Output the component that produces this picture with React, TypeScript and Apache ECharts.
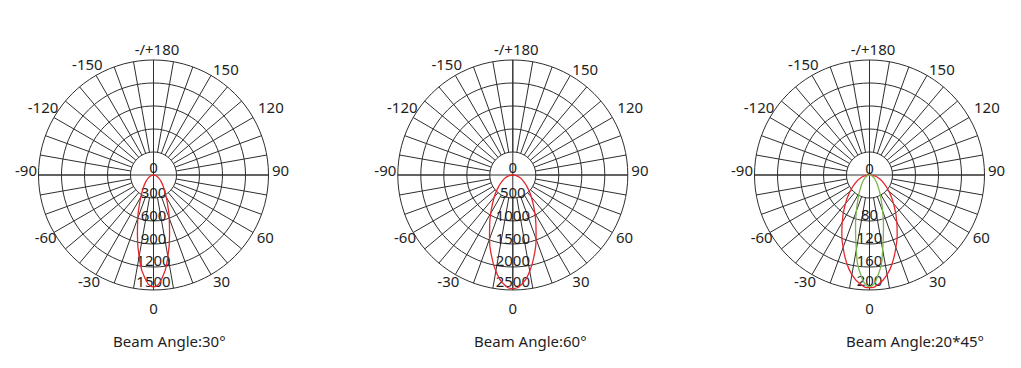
import { useEffect, useRef } from 'react';
import * as echarts from 'echarts';

// ---- data ----
const ANGLES = [-90, -80, -70, -60, -50, -40, -30, -25, -20, -15, -10, -5, 0, 5, 10, 15, 20, 25, 30, 40, 50, 60, 70, 80, 90];
const BEAM30 = [0, 20, 45, 80, 125, 200, 330, 440, 600, 810, 1080, 1340, 1460, 1340, 1080, 810, 600, 440, 330, 200, 125, 80, 45, 20, 0];
const BEAM60 = [0, 75, 160, 265, 410, 630, 960, 1190, 1480, 1800, 2120, 2370, 2470, 2370, 2120, 1800, 1480, 1190, 960, 630, 410, 265, 160, 75, 0];
const BEAM20X45_WIDE = [0, 8, 18, 29, 44, 65, 95, 114, 134, 156, 176, 190, 196, 190, 176, 156, 134, 114, 95, 65, 44, 29, 18, 8, 0];
const BEAM20X45_NARROW = [0, 2, 5, 8, 13, 21, 36, 48, 67, 94, 132, 174, 194, 174, 132, 94, 67, 48, 36, 21, 13, 8, 5, 2, 0];

const ANGLE_TICK_VALUES = [0, 30, 60, 90, 120, 150, 180, 210, 240, 270, 300, 330];
const ANGLE_TICK_LABELS = ['0', '30', '60', '90', '120', '150', '-/+180', '-150', '-120', '-90', '-60', '-30'];

const RADIUS_MAX = [1500, 2500, 200];
const RADIUS_STEP = [300, 500, 40];
const RADIUS_HIDDEN_LABELS: number[][] = [[], [], [40]];
const TITLES = ['Beam Angle:30°', 'Beam Angle:60°', 'Beam Angle:20*45°'];

// ---- layout / style ----
const FONT = '"Noto Sans", "Open Sans", sans-serif';
const TEXT = '#1e1e1e';
const GRID = '#2e2e2e';
const RED = '#e6262c';
const GREEN = '#7ab54e';
const CENTER_X = [153.5, 512.8, 869.5];
const CENTER_Y = 175;
const R = 115;
const HOLE = 23;
const TITLE_LEFT = [113, 474, 846];
const TITLE_TOP = 333;

// how far (px) each radius label sits above its ring, per chart
const RADIUS_LABEL_LIFT = [
  [8, 6, 6, 6, 7.5, 9],
  [8, 6, 6, 6, 7.5, 9],
  [7, 0, 7, 7, 7.5, 10.5],
];

// per-label padding [top, right, bottom, left] to place the angle labels like the reference
const LABEL_PAD: Record<number, number[]> = {
  0: [25.5, 0, 0, 0],
  30: [11.9, 0, 0, 9.5],
  60: [4.5, 0, 0, 16.6],
  90: [0, 0, 10, 18.5],
  120: [0, 0, 10.5, 17.9],
  150: [0, 0, 11.9, 9.5],
  180: [0, 0, 19, 7],
  210: [0, 0.8, 16.9, 0],
  240: [0, 8.6, 10.5, 0],
  270: [0, 16.5, 10, 0],
  300: [4.5, 10.2, 0, 0],
  330: [11.9, 3.5, 0, 0],
};

const SERIES_SETS = [
  [{ name: 'C0', values: BEAM30, color: RED }],
  [{ name: 'C0', values: BEAM60, color: RED }],
  [
    { name: 'C0', values: BEAM20X45_WIDE, color: RED },
    { name: 'C90', values: BEAM20X45_NARROW, color: GREEN },
  ],
];

function buildOption() {
  const polar: any[] = [];
  const angleAxis: any[] = [];
  const radiusAxis: any[] = [];
  const series: any[] = [];
  const title: any[] = [];

  const rich: Record<string, any> = {};
  ANGLE_TICK_VALUES.forEach((v) => {
    rich['a' + v] = { fontSize: 15, fontFamily: FONT, color: TEXT, padding: LABEL_PAD[v] };
  });

  for (let i = 0; i < 3; i++) {
    const cx = CENTER_X[i];
    const base = i * 3;
    polar.push({ center: [cx, CENTER_Y], radius: [HOLE, R] });
    polar.push({ center: [cx, CENTER_Y], radius: [0, R] });
    polar.push({ center: [cx, CENTER_Y], radius: [0, R] });

    // grid: spokes every 10 degrees starting at the hole, rings
    angleAxis.push({
      polarIndex: base, type: 'value', min: 0, max: 360, interval: 10, startAngle: 270, clockwise: false,
      axisLine: { show: false }, axisTick: { show: false }, axisLabel: { show: false },
      splitLine: { show: true, lineStyle: { color: GRID, width: 1 } },
    });
    radiusAxis.push({
      polarIndex: base, type: 'value', min: 0, max: 4, interval: 1,
      axisLine: { show: false }, axisTick: { show: false }, axisLabel: { show: false },
      splitLine: { show: true, lineStyle: { color: GRID, width: 1 } },
    });

    // cross through the centre
    angleAxis.push({
      polarIndex: base + 1, type: 'value', min: 0, max: 360, interval: 90, startAngle: 270, clockwise: false,
      axisLine: { show: false }, axisTick: { show: false }, axisLabel: { show: false },
      splitLine: { show: true, lineStyle: { color: GRID, width: 1 } },
    });
    radiusAxis.push({ polarIndex: base + 1, type: 'value', min: 0, max: 1, show: false });

    // data axes with labels
    const hidden = RADIUS_HIDDEN_LABELS[i];
    const lifts = RADIUS_LABEL_LIFT[i];
    const rrich: Record<string, any> = {};
    lifts.forEach((lift, k) => {
      rrich['r' + k] = { fontSize: 15, fontFamily: FONT, color: TEXT, padding: [0, 0, lift * 2, 0] };
    });
    angleAxis.push({
      polarIndex: base + 2, type: 'value', min: 0, max: 360, interval: 30, startAngle: 270, clockwise: false,
      axisLine: { show: false }, axisTick: { show: false }, splitLine: { show: false },
      axisLabel: {
        show: true, margin: -15,
        formatter: (v: number) => {
          const idx = ANGLE_TICK_VALUES.indexOf(v);
          if (idx < 0) return '';
          return '{a' + v + '|' + ANGLE_TICK_LABELS[idx] + '}';
        },
        rich,
      },
    });
    radiusAxis.push({
      polarIndex: base + 2, type: 'value', min: 0, max: RADIUS_MAX[i], interval: RADIUS_STEP[i],
      axisLine: { show: false }, axisTick: { show: false }, splitLine: { show: false },
      axisLabel: {
        show: true, margin: 0, align: 'center', verticalAlign: 'middle',
        fontSize: 15, fontFamily: FONT, color: TEXT,
        formatter: (v: number) => {
          if (hidden.indexOf(v) >= 0) return '';
          const k = Math.round(v / RADIUS_STEP[i]);
          return '{r' + k + '|' + v + '}';
        },
        rich: rrich,
      },
      z: 3,
    });

    SERIES_SETS[i].forEach((s) => {
      series.push({
        type: 'line', coordinateSystem: 'polar', polarIndex: base + 2, name: s.name,
        data: ANGLES.map((a, k) => [s.values[k], a < 0 ? a + 360 : a]),
        showSymbol: false, smooth: true, z: 5,
        lineStyle: { color: s.color, width: 1.3 },
        itemStyle: { color: s.color },
      });
    });

    title.push({
      text: TITLES[i], left: TITLE_LEFT[i], top: TITLE_TOP, padding: 0,
      textStyle: { fontSize: 15, fontWeight: 'normal', color: TEXT, fontFamily: FONT },
    });
  }

  return { animation: false, backgroundColor: '#ffffff', title, polar, angleAxis, radiusAxis, series };
}

export default function App() {
  const ref = useRef<HTMLDivElement>(null);
  useEffect(() => {
    const chart = echarts.init(ref.current!, null, { renderer: 'svg' });
    chart.setOption(buildOption());
    return () => chart.dispose();
  }, []);
  return (
    <div
      ref={ref}
      style={{ position: 'absolute', left: 0, top: 0, width: 1021, height: 368, background: '#fff' }}
    />
  );
}
